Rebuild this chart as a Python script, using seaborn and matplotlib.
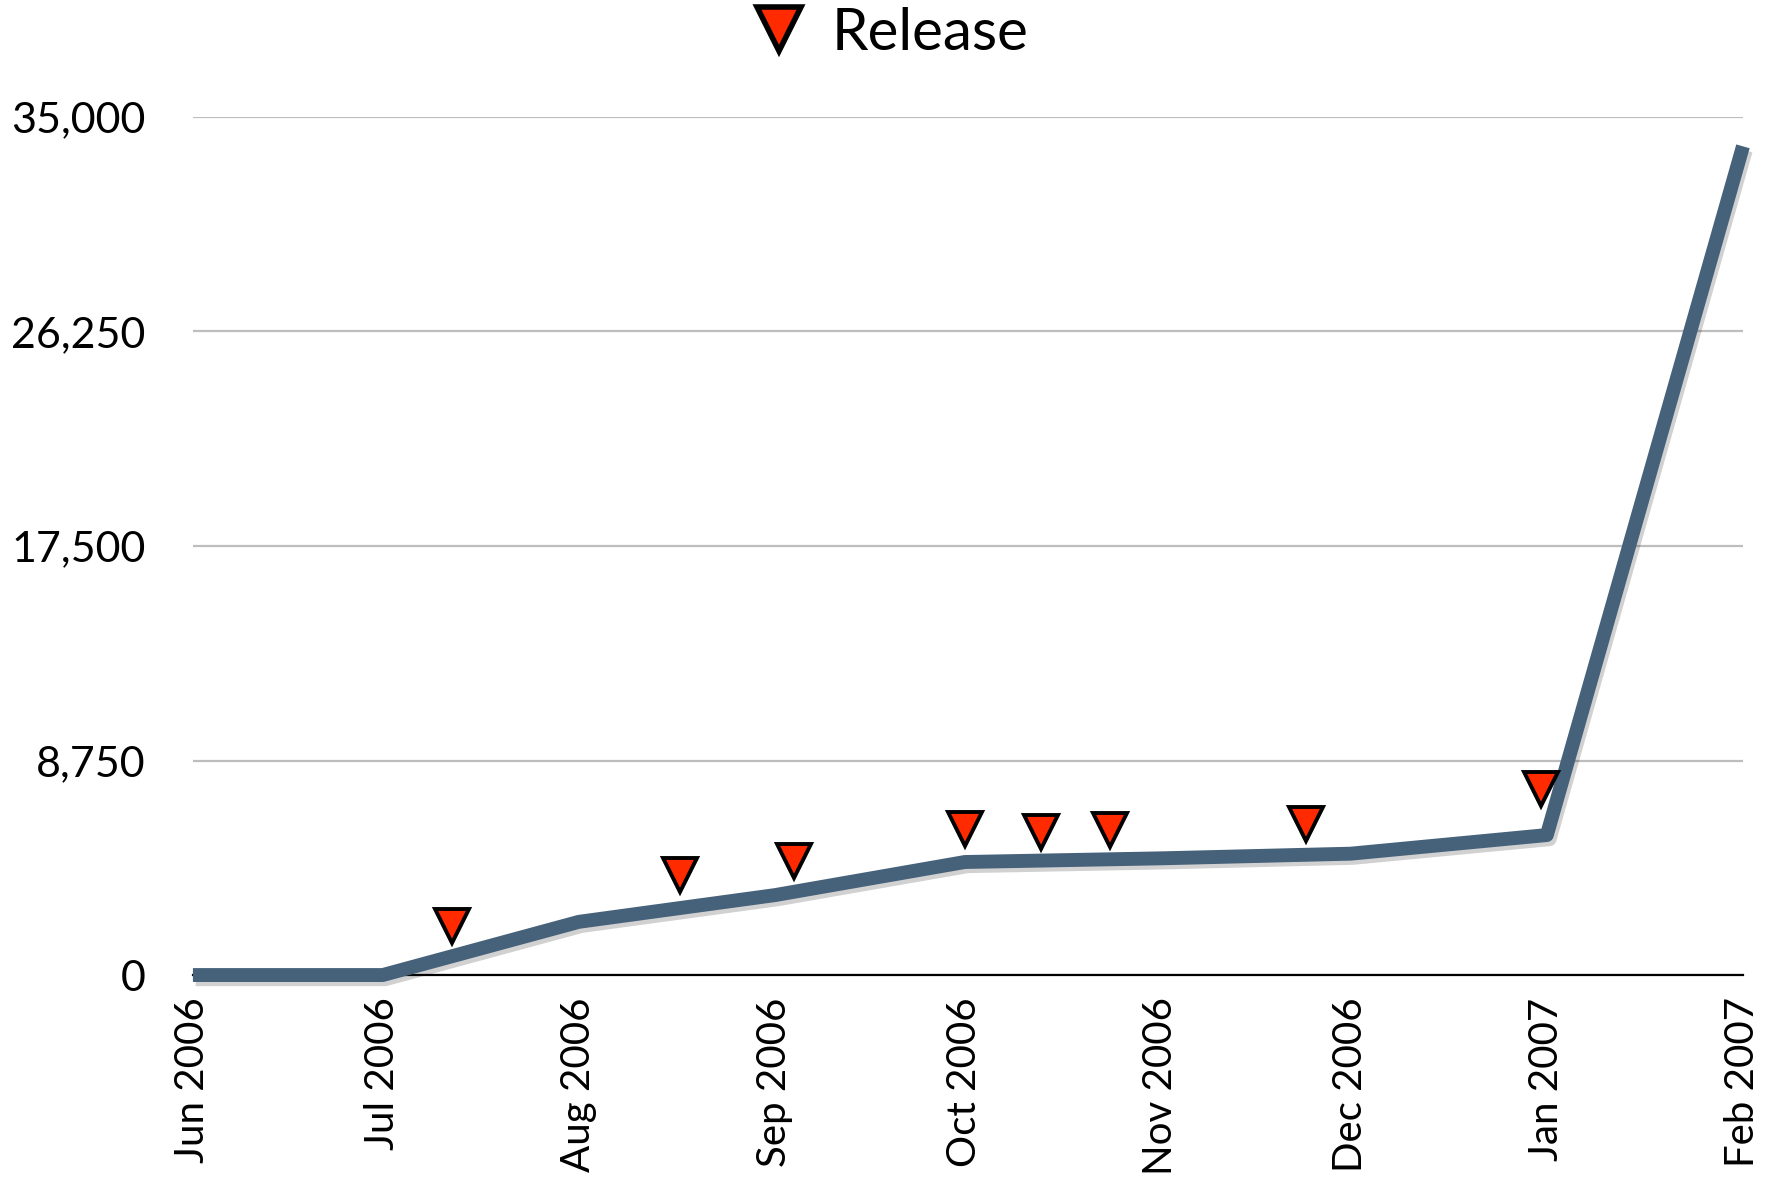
import matplotlib
matplotlib.use("Agg")
import matplotlib.pyplot as plt
import matplotlib.dates as mdates
import matplotlib.patheffects as pe
from matplotlib.lines import Line2D
from matplotlib.ticker import FuncFormatter
import pandas as pd
import seaborn as sns

# monthly totals
months = ["2006-06-01", "2006-07-01", "2006-08-01", "2006-09-01", "2006-10-01",
          "2006-11-01", "2006-12-01", "2007-01-01", "2007-02-01"]
totals = [0, 0, 2170, 3260, 4610, 4760, 4950, 5710, 33800]

# release markers (date, height)
release_dates = ["2006-07-12", "2006-08-17", "2006-09-04", "2006-10-01",
                 "2006-10-13", "2006-10-24", "2006-11-24", "2006-12-31"]
release_vals = [2020, 4080, 4650, 5950, 5830, 5930, 6160, 7590]

yticks = [0, 8750, 17500, 26250, 35000]

line_color = "#46617a"
marker_color = "#ff2a00"

df = pd.DataFrame({"month": pd.to_datetime(months), "total": totals})
rel = pd.DataFrame({"date": pd.to_datetime(release_dates), "value": release_vals})

sns.set_theme(style="white")
plt.rcParams["font.family"] = ["Lato", "DejaVu Sans"]
plt.rcParams["text.color"] = "black"

fig = plt.figure(figsize=(17.78, 11.93), dpi=100)
ax = fig.add_axes([0.1085, 0.1827, 0.8718, 0.7193])

sns.lineplot(data=df, x="month", y="total", ax=ax, color=line_color,
             linewidth=10, solid_capstyle="butt", solid_joinstyle="round",
             path_effects=[pe.SimpleLineShadow(offset=(2, -3), alpha=0.2),
                           pe.Normal()], zorder=3, clip_on=False)
ax.plot(rel["date"], rel["value"], linestyle="none", marker="v", ms=24,
        markerfacecolor=marker_color, markeredgecolor="black", mew=2.8,
        zorder=4)

ax.set_xlim(df["month"].iloc[0], df["month"].iloc[-1])
ax.set_ylim(0, 35000)
ax.set_yticks(yticks)
ax.yaxis.set_major_formatter(FuncFormatter(lambda v, p: f"{int(v):,}"))
ax.xaxis.set_major_locator(mdates.MonthLocator())
ax.xaxis.set_major_formatter(mdates.DateFormatter("%b %Y"))
ax.set_xlabel(None)
ax.set_ylabel(None)

ax.grid(axis="y", color="#bdbdbd", linewidth=1.6)
ax.set_axisbelow(True)
for s in ["top", "right", "left"]:
    ax.spines[s].set_visible(False)
ax.spines["bottom"].set_color("black")
ax.spines["bottom"].set_linewidth(1.6)
ax.spines["bottom"].set_zorder(2)

ax.tick_params(axis="y", length=0, pad=34, labelsize=31, labelcolor="black")
ax.tick_params(axis="x", length=0, pad=16, labelsize=29, labelcolor="black",
               rotation=90)
for lab in ax.get_xticklabels():
    lab.set_ha("center")
    lab.set_va("top")

handle = Line2D([], [], linestyle="none", marker="v", ms=32,
                markerfacecolor=marker_color, markeredgecolor="black", mew=4)
leg = fig.legend([handle], ["Release"], loc="center", bbox_to_anchor=(0.5, 0.972),
                 frameon=False, fontsize=42, handletextpad=0.4, handlelength=1.0)
for t in leg.get_texts():
    t.set_color("black")

fig.savefig("out.png", dpi=100)
